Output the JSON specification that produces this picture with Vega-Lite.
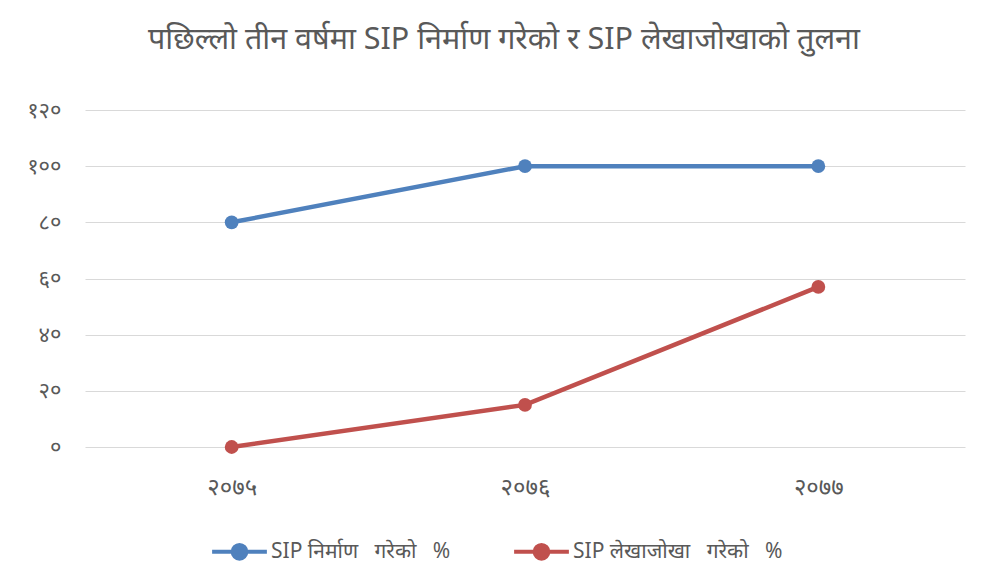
{
  "$schema": "https://vega.github.io/schema/vega-lite/v6.json",
  "width": 880,
  "height": 337,
  "autosize": {"type": "none"},
  "padding": {"left": 85, "top": 110, "right": 17, "bottom": 130},
  "background": "white",
  "config": {"view": {"stroke": null}},
  "title": {
    "text": "पछिल्लो तीन वर्षमा SIP निर्माण गरेको र SIP लेखाजोखाको तुलना",
    "fontSize": 30.5,
    "font": "Noto Sans",
    "fontWeight": "normal",
    "color": "#595959",
    "anchor": "middle",
    "offset": 44,
    "dx": -21
  },
  "data": {
    "values": [
      {"year": "२०७५", "series": "SIP निर्माण\u00a0\u00a0 गरेको\u00a0\u00a0 %", "value": 80},
      {"year": "२०७६", "series": "SIP निर्माण\u00a0\u00a0 गरेको\u00a0\u00a0 %", "value": 100},
      {"year": "२०७७", "series": "SIP निर्माण\u00a0\u00a0 गरेको\u00a0\u00a0 %", "value": 100},
      {"year": "२०७५", "series": "SIP लेखाजोखा\u00a0\u00a0 गरेको\u00a0\u00a0 %", "value": 0},
      {"year": "२०७६", "series": "SIP लेखाजोखा\u00a0\u00a0 गरेको\u00a0\u00a0 %", "value": 15},
      {"year": "२०७७", "series": "SIP लेखाजोखा\u00a0\u00a0 गरेको\u00a0\u00a0 %", "value": 57}
    ]
  },
  "encoding": {
    "x": {
      "field": "year",
      "type": "ordinal",
      "sort": null,
      "scale": {"paddingInner": 0, "paddingOuter": 0.5},
      "axis": {
        "title": null,
        "labelAngle": 0,
        "domain": false,
        "ticks": false,
        "labelPadding": 28,
        "labelFontSize": 24,
        "labelFont": "Noto Sans",
        "labelColor": "#595959"
      }
    },
    "y": {
      "field": "value",
      "type": "quantitative",
      "scale": {"domain": [0, 120]},
      "axis": {
        "title": null,
        "values": [0, 20, 40, 60, 80, 100, 120],
        "domain": false,
        "ticks": false,
        "labelPadding": 24,
        "labelFontSize": 22,
        "labelFont": "Noto Sans",
        "labelColor": "#595959",
        "gridColor": "#d9d9d9",
        "gridWidth": 1.2,
        "labelExpr": "replace(replace(replace(replace(replace(replace(datum.label,/0/g,'०'),/2/g,'२'),/4/g,'४'),/6/g,'६'),/8/g,'८'),/1/g,'१')"
      }
    },
    "color": {
      "field": "series",
      "type": "nominal",
      "sort": null,
      "scale": {"range": ["#4f81bd", "#c0504d"]},
      "legend": {
        "title": null,
        "orient": "none",
        "direction": "horizontal",
        "legendX": 125,
        "legendY": 412,
        "labelFontSize": 21,
        "labelFont": "Noto Sans",
        "labelColor": "#595959",
        "labelLimit": 0,
        "symbolType": "M-1,0L1,0M-0.25,0A0.25,0.25,0,1,0,0.25,0A0.25,0.25,0,1,0,-0.25,0",
        "symbolSize": 3000,
        "symbolStrokeWidth": 4,
        "labelOffset": 2,
        "columnPadding": 55
      }
    }
  },
  "layer": [
    {"mark": {"type": "line", "strokeWidth": 4.5}},
    {"mark": {"type": "point", "filled": true, "size": 190, "opacity": 1}}
  ]
}
